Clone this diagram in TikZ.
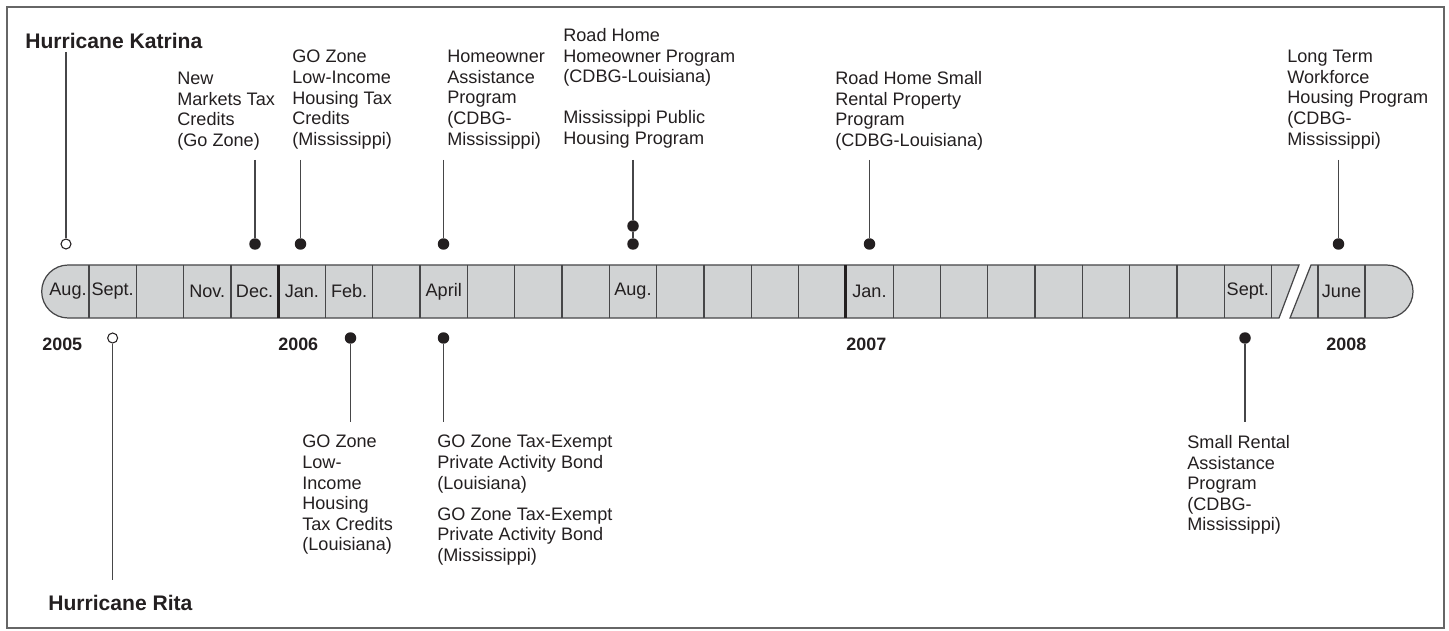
\documentclass[tikz,border=0pt]{standalone}
\usepackage{fontspec}
\setmainfont{Liberation Sans}
\usepackage{tikz}
\usetikzlibrary{calc}
\definecolor{barfill}{RGB}{209,211,212}
\definecolor{ink}{RGB}{35,31,32}
\definecolor{stemgray}{RGB}{70,70,72}

\begin{document}
\begin{tikzpicture}[x=0.02cm,y=-0.02cm,
  dot/.style={circle,fill=ink,inner sep=0pt,minimum size=0.23cm},
  opendot/.style={circle,draw=ink,fill=white,line width=0.6pt,inner sep=0pt,minimum size=0.2cm},
  stem/.style={stemgray,line width=0.7pt},
  lbl/.style={anchor=north west,align=left,inner sep=0pt,text=ink,font=\fontsize{10.3}{11.7}\selectfont},
  hur/.style={anchor=north west,inner sep=0pt,text=ink,font=\fontsize{12}{14}\selectfont\bfseries},
  yr/.style={anchor=north west,inner sep=0pt,text=ink,font=\fontsize{10.2}{12}\selectfont\bfseries},
  mon/.style={inner sep=0pt,text=ink,font=\fontsize{10.3}{12}\selectfont},
  cell/.style={stemgray,line width=0.7pt}]
\useasboundingbox (0,0) rectangle (1449,631);
\draw[gray!80!black,line width=0.6pt] (7,7) rectangle (1444,628);

% bar, cut in two by the break
\draw[fill=barfill,draw=stemgray,line width=0.7pt]
  (1299,265) -- (68.2,265) arc[start angle=270,end angle=90,radius=26.5] -- (1279,318) -- cycle;
\draw[fill=barfill,draw=stemgray,line width=0.7pt]
  (1311,265) -- (1386.5,265) arc[start angle=-90,end angle=90,radius=26.5] -- (1290,318) -- cycle;
\foreach \k in {1,...,26}
  \draw[cell] ({41.7+47.3*\k},265) -- ++(0,53);
\draw[cell] (1318,265) -- ++(0,53);
\draw[cell] (1365,265) -- ++(0,53);
\draw[ink,line width=1.6pt] ({41.7+47.3*5},265) -- ++(0,53);
\draw[ink,line width=1.6pt] ({41.7+47.3*17},265) -- ++(0,53);

% months
\node[mon] (mon0) at (68,291.5) {Aug.};
\foreach \k/\m in {1/Sept.,3/Nov.,4/Dec.,5/Jan.,6/Feb.,8/April,12/Aug.,17/Jan.,25/Sept.}
  \node[mon] (mon\k) at ({65.35+47.3*\k},291.5) {\m};
\node[mon] (monJune) at (1341.5,291.5) {June};

% years
\node[yr] (y2005) at (42,338) {2005};
\node[yr] (y2006) at (278,338) {2006};
\node[yr] (y2007) at (846,338) {2007};
\node[yr] (y2008) at (1326,338) {2008};

% hurricanes
\node[hur] (katrina) at (25,33) {Hurricane Katrina};
\node[opendot] (dKatrina) at (66,244) {};
\coordinate (tKatrina) at (66,52);
\draw[stem] (tKatrina) -- (dKatrina);
\node[hur] (rita) at (48,595) {Hurricane Rita};
\node[opendot] (dRita) at (112.65,338) {};
\coordinate (tRita) at (112.65,580);
\draw[stem] (dRita) -- (tRita);

% events above the bar
\node[lbl] (nmtc) at (177,72) {New\\Markets Tax\\Credits\\(Go Zone)};
\node[dot] (dDec) at (255,244) {};
\coordinate (tDec) at (255,160);
\draw[stem] (tDec) -- (dDec);

\node[lbl] (lihtcMS) at (292,50) {GO Zone\\Low-Income\\Housing Tax\\Credits\\(Mississippi)};
\node[dot] (dJan) at (300.5,244) {};
\coordinate (tJan) at (300.5,160);
\draw[stem] (tJan) -- (dJan);

\node[lbl] (hap) at (447,50) {Homeowner\\Assistance\\Program\\(CDBG-\\Mississippi)};
\node[dot] (dApr) at (443.5,244) {};
\coordinate (tApr) at (443.5,160);
\draw[stem] (tApr) -- (dApr);

\node[lbl] (roadhome) at (563,28) {Road Home\\Homeowner Program\\(CDBG-Louisiana)\\[11.7pt]Mississippi Public\\Housing Program};
\node[dot] (dAugA) at (633,226) {};
\node[dot] (dAugB) at (633,244) {};
\coordinate (tAug) at (633,160);
\draw[stem] (tAug) -- (dAugA) -- (dAugB);

\node[lbl] (rhsrp) at (835,71) {Road Home Small\\Rental Property\\Program\\(CDBG-Louisiana)};
\node[dot] (dJanB) at (869.5,244) {};
\coordinate (tJanB) at (869.5,160);
\draw[stem] (tJanB) -- (dJanB);

\node[lbl] (ltwhp) at (1287,50) {Long Term\\Workforce\\Housing Program\\(CDBG-\\Mississippi)};
\node[dot] (dJune) at (1338.5,244) {};
\coordinate (tJune) at (1338.5,160);
\draw[stem] (tJune) -- (dJune);

% events below the bar
\node[lbl] (lihtcLA) at (302,435) {GO Zone\\Low-\\Income\\Housing\\Tax Credits\\(Louisiana)};
\node[dot] (dFeb) at (350.5,338) {};
\coordinate (bFeb) at (350.5,422);
\draw[stem] (dFeb) -- (bFeb);

\node[lbl] (bonds) at (437,435) {GO Zone Tax-Exempt\\Private Activity Bond\\(Louisiana)\\[5.9pt]GO Zone Tax-Exempt\\Private Activity Bond\\(Mississippi)};
\node[dot] (dAprB) at (443.5,338) {};
\coordinate (bApr) at (443.5,422);
\draw[stem] (dAprB) -- (bApr);

\node[lbl] (srap) at (1187,435) {Small Rental\\Assistance\\Program\\(CDBG-\\Mississippi)};
\node[dot] (dSept) at (1245,338) {};
\coordinate (bSept) at (1245,422);
\draw[stem] (dSept) -- (bSept);
\end{tikzpicture}
\end{document}
